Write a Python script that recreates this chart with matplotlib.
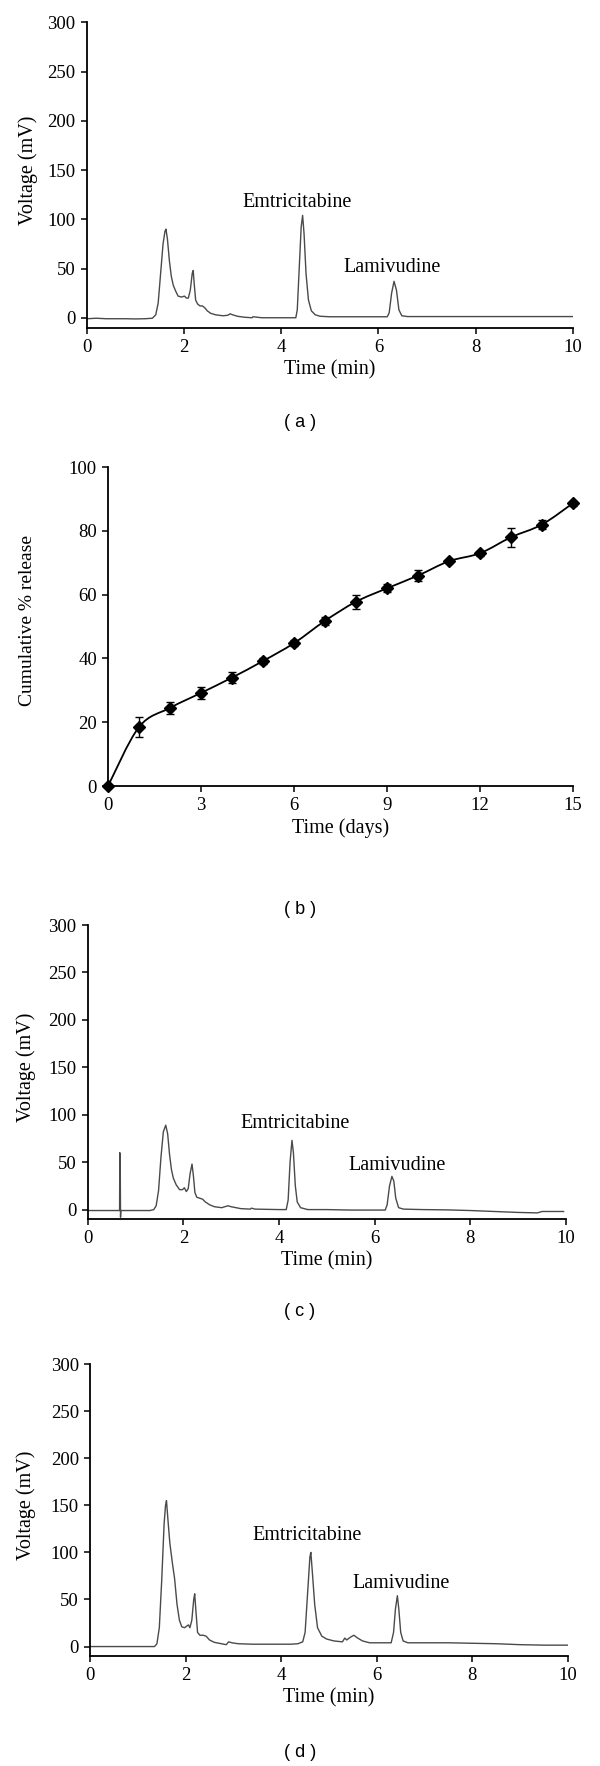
import numpy as np
import matplotlib
matplotlib.use("Agg")
import matplotlib.pyplot as plt
from matplotlib.path import Path
from matplotlib.patches import PathPatch

plt.rcParams['font.family'] = ['Liberation Serif', 'DejaVu Serif']

# (a) chromatogram: time (min), voltage (mV)
trace_a = [(0, -1), (0.2, -0.5), (0.4, -1), (0.6, -1), (0.8, -1), (1.0, -1.2), (1.2, -1),
           (1.35, -0.5), (1.42, 3), (1.47, 15), (1.52, 45), (1.57, 75), (1.61, 88), (1.63, 90),
           (1.66, 80), (1.70, 58), (1.74, 42), (1.78, 33), (1.83, 27), (1.88, 22), (1.95, 21),
           (2.01, 22), (2.05, 20), (2.09, 20), (2.13, 28), (2.17, 45), (2.19, 48), (2.21, 35),
           (2.24, 18), (2.28, 14), (2.33, 12), (2.38, 12), (2.43, 10), (2.48, 7), (2.55, 4.5),
           (2.65, 3), (2.8, 2), (2.9, 2.5), (2.95, 4), (3.0, 3), (3.1, 1.5), (3.25, 0.5),
           (3.4, 0), (3.42, 1), (3.6, 0), (4.0, 0), (4.3, 0), (4.33, 8), (4.37, 50), (4.41, 92),
           (4.44, 104), (4.47, 85), (4.51, 45), (4.56, 18), (4.62, 7), (4.7, 3), (4.8, 1.5),
           (5.0, 1), (5.5, 1), (6.0, 1), (6.18, 1), (6.22, 5), (6.27, 25), (6.32, 37),
           (6.37, 28), (6.42, 8), (6.48, 2), (6.6, 1.2), (7.0, 1.2), (8.0, 1.2), (9.0, 1.2),
           (10.0, 1.2)]

# (b) release profile
days = [0, 1, 2, 3, 4, 5, 6, 7, 8, 9, 10, 11, 12, 13, 14, 15]
release = [0, 18.5, 24.5, 29.2, 34, 39.2, 44.8, 51.8, 57.8, 62, 66, 70.5, 73, 78, 82, 88.7]
release_err = [0, 3, 2, 1.8, 1.8, 0.8, 1, 1.2, 2.2, 1.2, 1.6, 0.5, 0.8, 3, 1.5, 0.8]

# (c) chromatogram
trace_c = [(0, -1), (0.3, -1), (0.6, -1), (0.665, -1), (0.67, 60), (0.675, -1), (0.68, 37),
           (0.685, -8), (0.69, -1), (1.0, -1), (1.3, -1), (1.38, 0), (1.43, 4), (1.48, 20),
           (1.53, 55), (1.58, 82), (1.63, 89), (1.67, 80), (1.71, 58), (1.75, 42), (1.79, 33),
           (1.85, 26), (1.92, 21), (1.98, 21), (2.02, 23), (2.06, 19), (2.1, 22), (2.14, 38),
           (2.18, 48), (2.21, 35), (2.24, 18), (2.28, 13), (2.34, 12), (2.4, 11), (2.46, 8),
           (2.55, 5), (2.65, 3), (2.8, 2), (2.93, 4), (3.0, 3), (3.2, 1), (3.4, 0.5),
           (3.42, 1.5), (3.5, 0.5), (4.0, 0), (4.15, 0), (4.19, 10), (4.23, 50), (4.27, 73),
           (4.3, 60), (4.34, 25), (4.38, 8), (4.45, 2), (4.6, 0), (5.0, 0), (5.5, -0.5),
           (6.0, -0.5), (6.22, -0.5), (6.26, 5), (6.31, 25), (6.36, 35), (6.4, 30), (6.44, 12),
           (6.5, 2), (6.6, 0.5), (7.0, 0), (7.5, -0.3), (8.0, -1), (8.5, -2), (9.0, -3),
           (9.4, -3.5), (9.5, -2), (9.95, -2)]

# (d) chromatogram
trace_d = [(0, 0), (0.5, 0), (1.0, 0), (1.35, 0), (1.4, 3), (1.45, 20), (1.5, 70), (1.55, 130),
           (1.58, 150), (1.6, 155), (1.63, 135), (1.67, 110), (1.72, 90), (1.77, 72), (1.82, 45),
           (1.87, 28), (1.92, 21), (1.98, 20), (2.03, 22), (2.06, 23), (2.09, 20), (2.13, 28),
           (2.17, 50), (2.19, 56), (2.22, 35), (2.25, 15), (2.3, 12), (2.37, 12), (2.43, 11),
           (2.5, 7), (2.6, 4.5), (2.75, 3), (2.85, 2), (2.9, 5), (2.97, 4), (3.1, 3), (3.4, 2.5),
           (3.8, 2.5), (4.2, 2.5), (4.35, 3), (4.45, 5), (4.5, 15), (4.55, 55), (4.6, 95),
           (4.62, 100), (4.65, 80), (4.7, 45), (4.76, 20), (4.85, 11), (4.95, 8), (5.1, 6),
           (5.28, 5), (5.33, 9), (5.37, 7), (5.45, 10), (5.52, 12), (5.6, 9), (5.7, 6),
           (5.85, 4), (6.1, 4), (6.3, 4), (6.35, 15), (6.39, 40), (6.43, 54), (6.46, 40),
           (6.5, 15), (6.55, 6), (6.65, 4), (7.0, 4), (7.5, 4), (8.0, 3.5), (8.5, 3), (9.0, 2),
           (9.5, 1.5), (10.0, 1.5)]

# peak labels: (text, x, y)
labels_a = [("Emtricitabine", 4.32, 117), ("Lamivudine", 6.29, 51)]
labels_c = [("Emtricitabine", 4.34, 91), ("Lamivudine", 6.47, 47)]
labels_d = [("Emtricitabine", 4.54, 118), ("Lamivudine", 6.5, 67)]


def style_axes(ax):
    for s in ['top', 'right']:
        ax.spines[s].set_visible(False)
    for s in ['left', 'bottom']:
        ax.spines[s].set_linewidth(1.3)
    ax.tick_params(direction='out', length=4, width=1.1, labelsize=13.5, pad=4)


def chromatogram(ax, trace, labels):
    t = [p[0] for p in trace]
    v = [p[1] for p in trace]
    ax.plot(t, v, color='#4a4a4a', lw=1.0)
    for txt, x, y in labels:
        ax.text(x, y, txt, ha='center', va='center', fontsize=14.5)
    ax.set_xlim(0, 10)
    ax.set_ylim(-10, 300)
    ax.set_xticks(range(0, 11, 2))
    ax.set_yticks(range(0, 301, 50))
    style_axes(ax)
    ax.set_xlabel("Time (min)", fontsize=14.5, labelpad=3)
    ax.set_ylabel("Voltage (mV)", fontsize=14.5)


def smooth_path(xs, ys):
    # Excel-style smoothed line through the points
    pts = np.column_stack([xs, ys]).astype(float)
    n = len(pts)
    verts = [pts[0]]
    codes = [Path.MOVETO]
    for i in range(n - 1):
        p0 = pts[i - 1] if i > 0 else pts[i]
        p1 = pts[i]
        p2 = pts[i + 1]
        p3 = pts[i + 2] if i + 2 < n else pts[i + 1]
        verts += [p1 + (p2 - p0) / 6, p2 - (p3 - p1) / 6, p2]
        codes += [Path.CURVE4] * 3
    return Path(verts, codes)


fig = plt.figure(figsize=(6, 17.66), dpi=100)

ax_a = fig.add_axes([0.1445, 0.8145, 0.8105, 0.1728])
chromatogram(ax_a, trace_a, labels_a)
ax_a.yaxis.set_label_coords(-0.10, 0.515)

ax_b = fig.add_axes([0.18, 0.5549, 0.775, 0.1806])
ax_b.add_patch(PathPatch(smooth_path(days, release), fill=False, color='black', lw=1.3,
                         clip_on=False))
ax_b.errorbar(days, release, yerr=release_err, fmt='D', color='black', ms=6.5,
              ecolor='black', elinewidth=1.0, capsize=3, capthick=1.0, clip_on=False)
ax_b.set_xlim(0, 15)
ax_b.set_ylim(0, 100)
ax_b.set_xticks(range(0, 16, 3))
ax_b.set_yticks(range(0, 101, 20))
style_axes(ax_b)
ax_b.set_xlabel("Time (days)", fontsize=14.5, labelpad=3)
ax_b.set_ylabel("Cumulative % release", fontsize=14)
ax_b.yaxis.set_label_coords(-0.155, 0.52)

ax_c = fig.add_axes([0.1463, 0.3097, 0.797, 0.1665])
chromatogram(ax_c, trace_c, labels_c)
ax_c.yaxis.set_label_coords(-0.108, 0.515)

ax_d = fig.add_axes([0.15, 0.0623, 0.7967, 0.1653])
chromatogram(ax_d, trace_d, labels_d)
ax_d.yaxis.set_label_coords(-0.113, 0.515)

for lab, y in [("( a )", 0.761), ("( b )", 0.485), ("( c )", 0.2576), ("( d )", 0.0075)]:
    fig.text(0.5, y, lab, ha='center', va='center', fontsize=13, family='Liberation Sans')

fig.savefig("out.png", dpi=100)
